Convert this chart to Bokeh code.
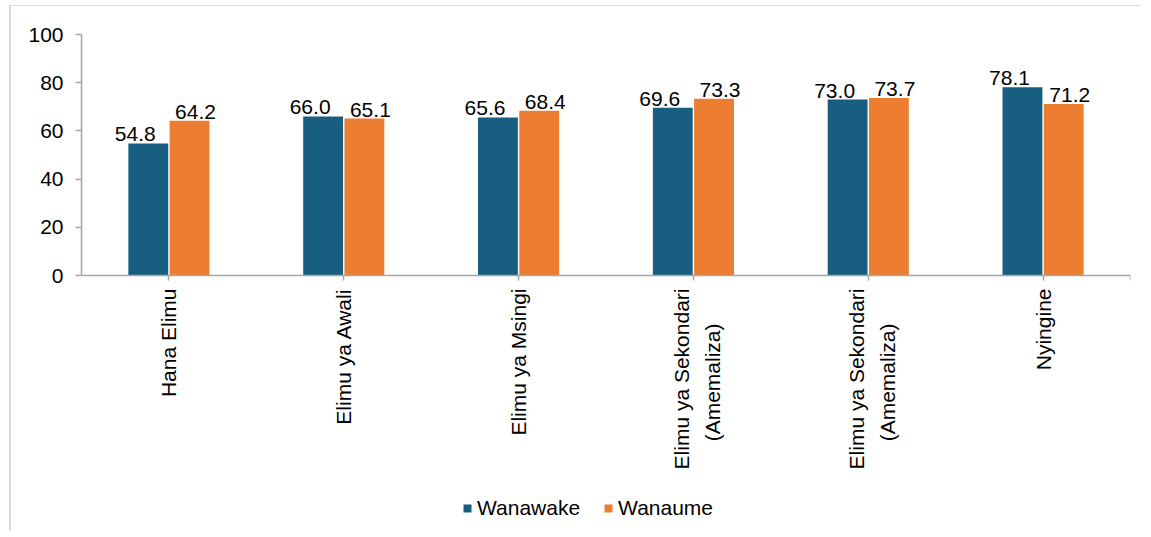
import numpy as np
from bokeh.plotting import figure
from bokeh.models import Range1d, FixedTicker, Legend, LegendItem
from bokeh.core.properties import value
from bokeh.embed import file_html
from bokeh.resources import INLINE

categories = ["Hana Elimu", "Elimu ya Awali", "Elimu ya Msingi",
              "Elimu ya Sekondari\n(Amemaliza)", "Elimu ya Sekondari\n(Amemaliza)", "Nyingine"]
wanawake = [54.8, 66.0, 65.6, 69.6, 73.0, 78.1]
wanaume = [64.2, 65.1, 68.4, 73.3, 73.7, 71.2]
series_names = ["Wanawake", "Wanaume"]
y_ticks = [0, 20, 40, 60, 80, 100]

FONT = "Liberation Sans"
BLUE = "#175e80"
ORANGE = "#ed7d31"
AXIS = "#a6a6a6"

n = len(categories)
xc = np.arange(n) + 0.5
dodge = 0.118
bw = 0.228
line_shift = [-0.066, 0.112]      # placement of the two lines of a wrapped label
pad = "\u00a0" * 6                # centres the shorter second line

# plot area: value axis 0..100 spans 241 px; frame continues below for labels + legend
VAL_PX = 241
FRAME_PX = 497
y_start = -100.0 * (FRAME_PX - VAL_PX) / VAL_PX

lab_pos, lab_txt = [], []
for x, c in zip(xc, categories):
    parts = c.split("\n")
    if len(parts) == 1:
        lab_pos.append(float(x)); lab_txt.append(c)
    else:
        lab_pos.append(float(x + line_shift[0])); lab_txt.append(parts[0])
        lab_pos.append(float(x + line_shift[1])); lab_txt.append(parts[1] + pad)

p = figure(frame_width=1049, frame_height=FRAME_PX, output_backend="svg", toolbar_location=None,
           x_range=Range1d(0, n), y_range=Range1d(y_start, 100),
           min_border_left=70, min_border_top=28, min_border_right=10, min_border_bottom=0,
           margin=(5, 0, 0, 9),
           styles={"border-left": "2px solid #d9d9d9", "border-top": "1px solid #d9d9d9"})

r1 = p.vbar(x=xc - dodge, top=wanawake, width=bw, fill_color=BLUE, line_color=None)
r2 = p.vbar(x=xc + dodge, top=wanaume, width=bw, fill_color=ORANGE, line_color=None)

common = dict(text_font=value(FONT), text_font_size="21px", text_color="black",
              text_align="center", text_baseline="alphabetic")
p.text(x=xc - dodge, y=wanawake, text=[f"{v:.1f}" for v in wanawake], x_offset=-13, y_offset=-9, **common)
p.text(x=xc + dodge, y=wanaume, text=[f"{v:.1f}" for v in wanaume], x_offset=6, y_offset=-9, **common)

# x axis drawn at y = 0; labels on major ticks, tick marks as minor ticks at category centres
p.xaxis.fixed_location = 0
p.xaxis.ticker = FixedTicker(ticks=lab_pos, minor_ticks=list(map(float, xc)) + [float(n)])
p.xaxis.major_label_overrides = dict(zip(lab_pos, lab_txt))
p.xaxis.major_label_orientation = np.pi / 2
p.xaxis.major_label_standoff = 8
p.xaxis.major_tick_in = 0
p.xaxis.major_tick_out = 5
p.xaxis.major_tick_line_color = None
p.xaxis.minor_tick_in = 0
p.xaxis.minor_tick_out = 5
p.xaxis.minor_tick_line_color = AXIS
p.xaxis.minor_tick_line_width = 1.5

p.yaxis.ticker = FixedTicker(ticks=y_ticks)
p.yaxis.bounds = (0, 100)
p.yaxis.major_label_standoff = 12
p.yaxis.major_tick_in = 0
p.yaxis.major_tick_out = 6
p.yaxis.minor_tick_line_color = None
p.yaxis.major_tick_line_color = AXIS
p.yaxis.major_tick_line_width = 1.5

for ax in (p.xaxis, p.yaxis):
    ax.axis_line_color = AXIS
    ax.axis_line_width = 1.5
    ax.major_label_text_font = FONT
    ax.major_label_text_font_size = "21px"
    ax.major_label_text_color = "black"

p.xgrid.grid_line_color = None
p.ygrid.grid_line_color = None
p.outline_line_color = None

legend = Legend(items=[LegendItem(label=series_names[0], renderers=[r1]),
                       LegendItem(label=series_names[1], renderers=[r2])],
                orientation="horizontal", location=(381, 11),
                glyph_width=10, glyph_height=10, label_standoff=5, spacing=23,
                label_text_font=FONT, label_text_font_size="21px", label_text_color="black",
                label_height=22, padding=0, margin=0,
                border_line_alpha=0, background_fill_alpha=0)
p.add_layout(legend)

open("out.html", "w").write(file_html(p, INLINE))
